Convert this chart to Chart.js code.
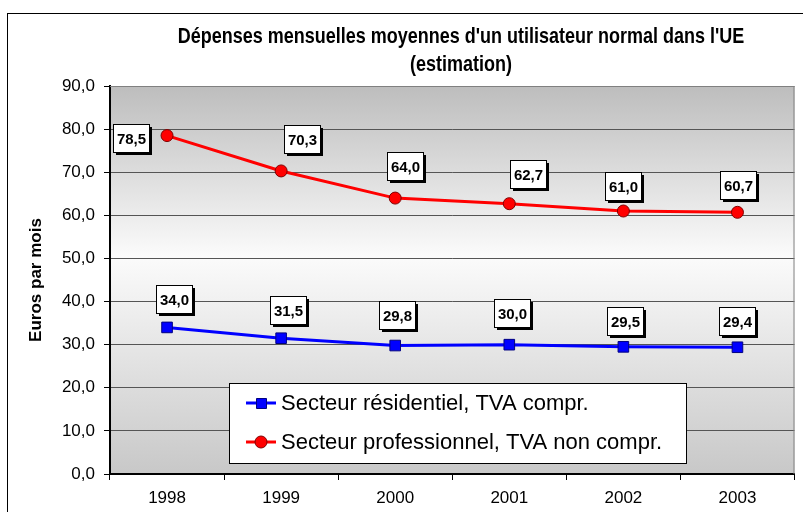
<!DOCTYPE html>
<html>
<head>
<meta charset="utf-8">
<script src="https://cdn.jsdelivr.net/npm/chart.js@4/dist/chart.umd.min.js"></script>
<style>
  html, body { margin: 0; padding: 0; background: #fff; }
  #wrap { position: relative; width: 803px; height: 512px; }
</style>
</head>
<body>
<div id="wrap"><canvas id="chart" width="803" height="512"></canvas></div>
<script>
// Data
const years = ['1998', '1999', '2000', '2001', '2002', '2003'];
const residentiel = [34.0, 31.5, 29.8, 30.0, 29.5, 29.4];
const professionnel = [78.5, 70.3, 64.0, 62.7, 61.0, 60.7];
const seriesNames = ['Secteur résidentiel, TVA compr.', 'Secteur professionnel, TVA non compr.'];
const titleLines = ["Dépenses mensuelles moyennes d'un utilisateur normal dans l'UE", '(estimation)'];
const yTitle = 'Euros par mois';

// where each value box sits relative to its point (dx, dy in px)
const labelOffsets = [
  [[7, -28], [7, -28], [2, -31], [3, -32], [2, -26], [0, -26]],
  [[-36, 2], [21, -32], [10, -32], [19, -30], [0, -25], [1, -27]]
];

const fmt = v => v.toFixed(1).replace('.', ',');

// frame, plot background and title
const backdrop = {
  id: 'backdrop',
  beforeDraw(chart) {
    const { ctx, chartArea: a } = chart;
    ctx.save();
    ctx.strokeStyle = '#000';
    ctx.lineWidth = 1;
    ctx.strokeRect(7.5, 13.5, 1000, 1000);

    const g = ctx.createLinearGradient(0, a.top, 0, a.bottom);
    g.addColorStop(0, '#bdbdbd');
    g.addColorStop(0.44, '#fbfbfb');
    g.addColorStop(1, '#c8c8c8');
    ctx.fillStyle = g;
    ctx.fillRect(a.left, a.top, a.right - a.left, a.bottom - a.top);

    ctx.fillStyle = '#000';
    ctx.font = 'bold 18px "Liberation Sans", Arial, sans-serif';
    ctx.textAlign = 'center';
    ctx.textBaseline = 'middle';
    titleLines.forEach((t, i) => {
      ctx.save();
      ctx.translate(461, 37 + i * 28);
      ctx.scale(1, 1.2);
      ctx.fillText(t, 0, 0);
      ctx.restore();
    });
    ctx.restore();
  },
  beforeDatasetsDraw(chart) {
    const { ctx, chartArea: a } = chart;
    ctx.save();
    ctx.strokeStyle = '#808080';
    ctx.lineWidth = 1;
    ctx.beginPath();
    ctx.moveTo(a.left, a.top + 0.5);
    ctx.lineTo(a.right - 0.5, a.top + 0.5);
    ctx.lineTo(a.right - 0.5, a.bottom);
    ctx.stroke();
    ctx.restore();
  }
};

// boxed value labels and the legend inside the plot
const overlays = {
  id: 'overlays',
  afterDatasetsDraw(chart) {
    const { ctx } = chart;
    ctx.save();
    ctx.font = 'bold 15px "Liberation Sans", Arial, sans-serif';
    ctx.textAlign = 'center';
    ctx.textBaseline = 'middle';
    chart.data.datasets.forEach((ds, di) => {
      chart.getDatasetMeta(di).data.forEach((pt, i) => {
        const [dx, dy] = labelOffsets[di][i];
        const cx = pt.x + dx, cy = pt.y + dy;
        const w = 36, h = 28;
        const x0 = Math.round(cx - w / 2) + 0.5, y0 = Math.round(cy - h / 2) + 0.5;
        ctx.fillStyle = '#000';
        ctx.fillRect(x0 + 2.5, y0 + 2.5, w, h);
        ctx.fillStyle = '#fff';
        ctx.fillRect(x0, y0, w, h);
        ctx.strokeStyle = '#000';
        ctx.lineWidth = 1;
        ctx.strokeRect(x0, y0, w, h);
        ctx.fillStyle = '#000';
        ctx.fillText(fmt(ds.data[i]), x0 + w / 2, y0 + h / 2 + 1);
      });
    });

    // legend
    const lx = 229.5, ly = 383.5, lw = 457, lh = 80;
    ctx.fillStyle = '#fff';
    ctx.fillRect(lx, ly, lw, lh);
    ctx.strokeStyle = '#000';
    ctx.strokeRect(lx, ly, lw, lh);
    ctx.font = '22px "Liberation Sans", Arial, sans-serif';
    ctx.textAlign = 'left';
    chart.data.datasets.forEach((ds, di) => {
      const y = 403 + di * 39;
      ctx.strokeStyle = ds.borderColor;
      ctx.lineWidth = 3;
      ctx.beginPath();
      ctx.moveTo(246, y);
      ctx.lineTo(276, y);
      ctx.stroke();
      ctx.fillStyle = ds.pointBackgroundColor;
      ctx.strokeStyle = ds.pointBorderColor;
      ctx.lineWidth = 1;
      ctx.beginPath();
      if (ds.pointStyle === 'rect') {
        ctx.rect(256.5, y - 4.5, 10, 10);
      } else {
        ctx.arc(261, y, 6, 0, Math.PI * 2);
      }
      ctx.fill();
      ctx.stroke();
      ctx.fillStyle = '#000';
      ctx.fillText(ds.label, 281, y + 1);
    });
    ctx.restore();
  }
};

new Chart(document.getElementById('chart'), {
  type: 'line',
  data: {
    labels: years,
    datasets: [{
      label: seriesNames[0],
      data: residentiel,
      borderColor: '#0000ff',
      borderWidth: 3,
      pointStyle: 'rect',
      pointRadius: 7.5,
      pointBackgroundColor: '#0000ff',
      pointBorderColor: '#000080',
      pointBorderWidth: 1,
      tension: 0
    }, {
      label: seriesNames[1],
      data: professionnel,
      borderColor: '#ff0000',
      borderWidth: 3,
      pointStyle: 'circle',
      pointRadius: 6,
      pointBackgroundColor: '#ff0000',
      pointBorderColor: '#800000',
      pointBorderWidth: 1,
      tension: 0
    }]
  },
  options: {
    responsive: false,
    animation: false,
    events: [],
    layout: { padding: { left: 0, right: 3, top: 86, bottom: 0 } },
    plugins: {
      legend: { display: false },
      title: { display: false },
      tooltip: { enabled: false }
    },
    scales: {
      x: {
        offset: true,
        afterFit: s => { s.height = 38; },
        grid: { drawOnChartArea: false, offset: true, tickLength: 6, tickColor: '#000' },
        border: { color: '#000', width: 2 },
        ticks: {
          color: '#000',
          padding: 8,
          font: { family: '"Liberation Sans", Arial, sans-serif', size: 17 }
        }
      },
      y: {
        min: 0,
        max: 90,
        afterFit: s => { s.width = 110; },
        grid: { color: '#555', lineWidth: 1, tickLength: 6, tickColor: '#000' },
        border: { color: '#000', width: 2 },
        ticks: {
          stepSize: 10,
          color: '#000',
          padding: 9,
          callback: v => fmt(v),
          font: { family: '"Liberation Sans", Arial, sans-serif', size: 17 }
        },
        title: {
          display: true,
          text: yTitle,
          color: '#000',
          padding: { top: 26, bottom: 0 },
          font: { family: '"Liberation Sans", Arial, sans-serif', size: 17, weight: 'bold' }
        }
      }
    }
  },
  plugins: [backdrop, overlays]
});
</script>
</body>
</html>
